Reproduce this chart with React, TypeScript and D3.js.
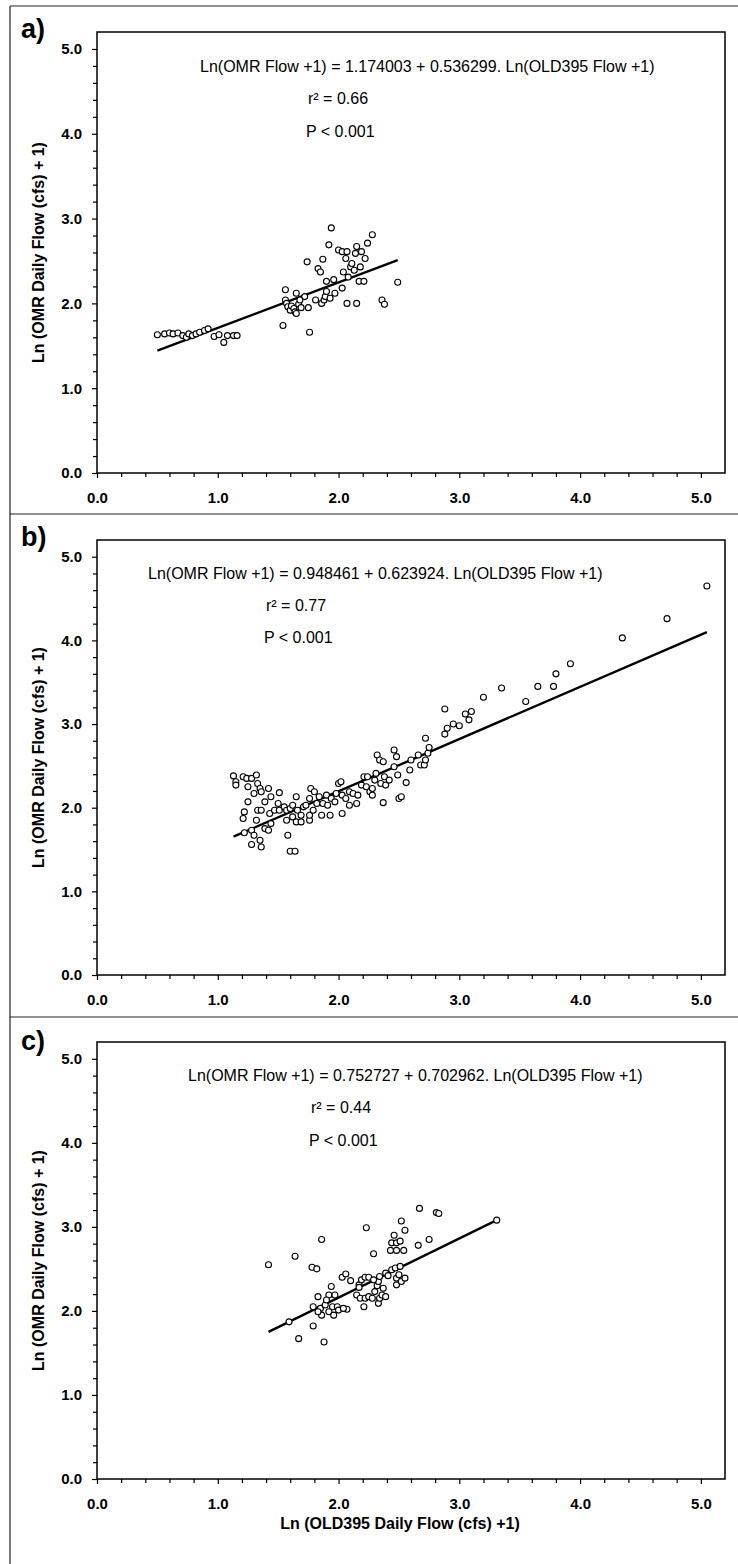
import React, { useEffect, useRef } from "react"
import * as d3 from "d3"

// regression results, one entry per panel
const panelLabels = ["a)", "b)", "c)"]
const intercepts = [1.174003, 0.948461, 0.752727]
const slopes = [0.536299, 0.623924, 0.702962]
const rSquared = ["0.66", "0.77", "0.44"]
const pLabels = ["P < 0.001", "P < 0.001", "P < 0.001"]

const majorTicks = [0, 1, 2, 3, 4, 5]
const minorTicks = [0.2, 0.4, 0.6, 0.8, 1.2, 1.4, 1.6, 1.8, 2.2, 2.4, 2.6, 2.8, 3.2, 3.4, 3.6, 3.8, 4.2, 4.4, 4.6, 4.8]

const yTitle = "Ln (OMR Daily Flow (cfs) + 1)"
const xTitle = "Ln (OLD395 Daily Flow (cfs) +1)"

// [Ln(OLD395 flow + 1), Ln(OMR flow + 1)]
const pointsA = [
  [0.5, 1.63], [0.56, 1.64], [0.6, 1.65], [0.63, 1.64], [0.67, 1.65], [0.71, 1.62], [0.74, 1.6], [0.76, 1.64],
  [0.79, 1.62], [0.82, 1.64], [0.85, 1.66], [0.89, 1.68], [0.92, 1.7], [0.97, 1.61], [1.01, 1.63], [1.05, 1.54],
  [1.08, 1.62], [1.13, 1.62], [1.16, 1.62],
  [1.54, 1.74], [1.56, 2.16], [1.56, 2.04], [1.57, 2.0], [1.58, 1.96], [1.6, 1.92], [1.61, 1.97], [1.63, 1.94],
  [1.64, 1.9], [1.65, 1.88], [1.65, 2.12], [1.67, 1.99], [1.68, 2.04], [1.69, 1.95], [1.72, 2.08], [1.74, 2.49],
  [1.75, 1.95], [1.76, 1.66],
  [1.81, 2.04], [1.83, 2.41], [1.85, 2.37], [1.87, 2.52], [1.86, 2.0], [1.88, 2.04], [1.89, 2.08], [1.9, 2.14],
  [1.9, 2.26], [1.92, 2.69], [1.93, 2.06], [1.94, 2.89], [1.96, 2.28], [1.97, 2.12], [2.0, 2.63], [2.03, 2.61],
  [2.03, 2.18], [2.04, 2.37], [2.06, 2.53], [2.07, 2.0], [2.07, 2.61], [2.08, 2.31], [2.1, 2.43], [2.11, 2.47],
  [2.13, 2.39], [2.14, 2.59], [2.15, 2.0], [2.15, 2.67], [2.17, 2.26], [2.18, 2.43], [2.19, 2.61], [2.21, 2.26],
  [2.22, 2.53], [2.24, 2.71], [2.28, 2.81], [2.36, 2.04], [2.38, 1.99], [2.49, 2.25],
]

const pointsB = [
  [1.13, 2.38], [1.15, 2.31], [1.15, 2.27], [1.21, 2.37], [1.24, 2.35], [1.25, 2.25], [1.28, 2.35], [1.32, 2.39],
  [1.33, 2.29], [1.3, 2.17], [1.35, 2.23], [1.36, 2.19], [1.42, 2.23], [1.51, 2.18], [1.44, 2.13], [1.39, 2.07],
  [1.25, 2.07], [1.22, 1.95], [1.21, 1.87], [1.33, 1.97], [1.36, 1.97], [1.32, 1.85], [1.43, 1.93], [1.47, 1.97],
  [1.51, 1.97], [1.5, 2.05], [1.44, 1.81], [1.39, 1.75], [1.42, 1.73], [1.22, 1.7], [1.28, 1.73], [1.3, 1.67],
  [1.28, 1.56], [1.35, 1.61], [1.36, 1.53],
  [1.55, 2.01], [1.57, 1.97], [1.57, 1.85], [1.58, 1.67], [1.6, 1.48], [1.64, 1.48], [1.6, 1.99], [1.62, 2.03],
  [1.65, 2.13], [1.66, 1.97], [1.62, 1.89], [1.65, 1.83], [1.69, 1.83], [1.69, 1.91], [1.71, 2.01], [1.73, 2.03],
  [1.76, 2.11], [1.77, 2.23], [1.8, 2.19], [1.76, 1.85], [1.76, 1.91], [1.79, 1.97], [1.82, 2.05], [1.84, 2.13],
  [1.86, 1.91], [1.87, 2.05], [1.9, 2.15], [1.91, 2.03], [1.93, 1.91], [1.94, 2.11], [1.97, 2.07], [1.98, 2.17],
  [2.0, 2.29], [2.02, 2.31], [2.03, 1.93], [2.03, 2.15], [2.06, 2.11], [2.09, 2.19], [2.09, 2.03], [2.12, 2.17],
  [2.15, 2.05], [2.16, 2.15], [2.19, 2.27], [2.21, 2.37], [2.23, 2.25], [2.24, 2.37], [2.26, 2.19], [2.28, 2.23],
  [2.28, 2.15], [2.3, 2.33], [2.31, 2.41], [2.32, 2.63], [2.34, 2.57], [2.35, 2.29], [2.37, 2.55], [2.37, 2.06],
  [2.38, 2.37], [2.39, 2.27], [2.42, 2.33], [2.46, 2.69], [2.46, 2.49], [2.48, 2.61], [2.49, 2.39], [2.5, 2.11],
  [2.52, 2.13], [2.56, 2.3], [2.59, 2.45], [2.6, 2.57], [2.66, 2.63], [2.68, 2.51], [2.71, 2.51], [2.72, 2.57],
  [2.74, 2.65],
  [2.75, 2.72], [2.72, 2.83], [2.88, 3.18], [2.9, 2.95], [2.88, 2.88], [2.95, 3.0], [3.0, 2.98], [3.05, 3.12],
  [3.08, 3.05], [3.1, 3.15], [3.2, 3.32], [3.35, 3.43], [3.55, 3.27], [3.65, 3.45], [3.78, 3.45], [3.8, 3.6],
  [3.92, 3.72], [4.35, 4.03], [4.72, 4.26], [5.05, 4.65],
]

const pointsC = [
  [1.42, 2.55], [1.64, 2.65], [1.86, 2.85], [1.78, 2.52], [1.82, 2.5], [1.59, 1.87], [1.79, 1.82], [1.67, 1.67],
  [1.88, 1.63], [2.23, 2.99], [2.29, 2.68], [2.46, 2.9], [2.44, 2.81], [2.48, 2.81], [2.51, 2.83], [2.43, 2.72],
  [2.48, 2.72], [2.54, 2.72], [2.52, 3.07], [2.55, 2.96], [2.67, 3.22], [2.81, 3.17], [2.83, 3.16], [2.66, 2.78],
  [2.75, 2.85], [3.31, 3.08],
  [1.83, 2.17], [1.92, 2.19], [1.97, 2.19], [1.94, 2.29], [1.79, 2.05], [1.85, 2.03], [1.89, 2.07], [1.95, 2.05],
  [1.99, 2.05], [1.92, 1.99], [1.96, 1.95], [1.86, 1.95], [2.0, 2.01], [2.07, 2.02], [2.04, 2.03], [1.83, 1.99],
  [1.9, 2.13],
  [2.03, 2.4], [2.06, 2.44], [2.1, 2.36], [2.17, 2.31], [2.19, 2.37], [2.22, 2.4], [2.25, 2.4], [2.15, 2.19],
  [2.18, 2.15], [2.21, 2.05], [2.22, 2.15], [2.25, 2.17], [2.28, 2.15], [2.3, 2.23], [2.32, 2.3], [2.33, 2.35],
  [2.34, 2.41], [2.33, 2.09], [2.34, 2.15], [2.36, 2.19], [2.37, 2.27], [2.39, 2.17], [2.39, 2.45], [2.41, 2.42],
  [2.44, 2.49], [2.47, 2.51], [2.48, 2.39], [2.5, 2.43], [2.51, 2.53], [2.48, 2.31], [2.52, 2.35], [2.55, 2.39],
  [2.17, 2.28], [2.29, 2.37],
]

const allPoints = [pointsA, pointsB, pointsC]

// layout of each framed panel (pixel positions)
const panels = [
  { boxTop: 6, boxBottom: 514, plotTop: 32, plotBottom: 473, eqX: 200, statX: 308 },
  { boxTop: 514, boxBottom: 1017, plotTop: 540, plotBottom: 975, eqX: 148, statX: 266 },
  { boxTop: 1017, boxBottom: 1600, plotTop: 1042, plotBottom: 1479, eqX: 188, statX: 311 },
]

const W = 738
const H = 1564
const plotLeft = 97
const plotRight = 725
const font = "'Liberation Sans', Arial, Helvetica, sans-serif"
const fmt = d3.format(".1f")

export default function App() {
  const ref = useRef<SVGSVGElement>(null)

  useEffect(() => {
    const svg = d3.select(ref.current)
    svg.selectAll("*").remove()

    const x = d3.scaleLinear().domain([0, 5.2]).range([plotLeft, plotRight])

    panels.forEach((p, i) => {
      const y = d3.scaleLinear().domain([0, 5.2]).range([p.plotBottom, p.plotTop])
      const g = svg.append("g")

      // outer scanned frame
      g.append("line").attr("x1", 10).attr("x2", W).attr("y1", p.boxTop).attr("y2", p.boxTop)
        .attr("stroke", "#222").attr("stroke-width", 1.2)
      g.append("line").attr("x1", 10).attr("x2", 10).attr("y1", p.boxTop).attr("y2", p.boxBottom)
        .attr("stroke", "#222").attr("stroke-width", 1.2)

      // plot box
      g.append("rect")
        .attr("x", plotLeft).attr("y", p.plotTop)
        .attr("width", plotRight - plotLeft).attr("height", p.plotBottom - p.plotTop)
        .attr("fill", "none").attr("stroke", "#000").attr("stroke-width", 1.5)

      // minor ticks
      g.append("g").attr("transform", `translate(0,${p.plotBottom})`)
        .call(d3.axisBottom(x).tickValues(minorTicks).tickSize(4).tickFormat(() => ""))
      g.append("g").attr("transform", `translate(${plotLeft},0)`)
        .call(d3.axisLeft(y).tickValues(minorTicks).tickSize(4).tickFormat(() => ""))

      // major ticks with labels
      const xAxis = g.append("g").attr("transform", `translate(0,${p.plotBottom})`)
        .call(d3.axisBottom(x).tickValues(majorTicks).tickSize(5).tickPadding(14).tickFormat((d) => fmt(+d)))
      const yAxis = g.append("g").attr("transform", `translate(${plotLeft},0)`)
        .call(d3.axisLeft(y).tickValues(majorTicks).tickSize(5).tickPadding(10).tickFormat((d) => fmt(+d)))

      ;[xAxis, yAxis].forEach((ax) => {
        ax.select(".domain").remove()
        ax.selectAll("line").attr("stroke", "#000").attr("stroke-width", 1.3)
        ax.selectAll("text").attr("font-family", font).attr("font-size", 15)
          .attr("font-weight", "bold").attr("fill", "#000")
      })
      g.selectAll(".tick line").attr("stroke", "#000").attr("stroke-width", 1.2)
      g.selectAll(".domain").remove()

      // panel letter
      g.append("text").attr("x", 21).attr("y", p.plotTop + 6 + (i === 2 ? 2 : 0))
        .attr("font-family", font).attr("font-size", 27).attr("font-weight", "bold")
        .text(panelLabels[i])

      // y axis title
      g.append("text")
        .attr("transform", `translate(44,${(p.plotTop + p.plotBottom) / 2}) rotate(-90)`)
        .attr("text-anchor", "middle")
        .attr("font-family", font).attr("font-size", 16).attr("font-weight", "bold")
        .text(yTitle)

      // regression line over the observed range
      const pts = allPoints[i]
      const ext = d3.extent(pts, (d) => d[0]) as [number, number]
      const fit = ext.map((v) => [v, intercepts[i] + slopes[i] * v])
      g.append("path")
        .attr("d", d3.line().x((d) => x(d[0])).y((d) => y(d[1]))(fit as [number, number][]))
        .attr("stroke", "#000").attr("stroke-width", 2.4).attr("fill", "none")

      // observations
      g.append("g").selectAll("circle").data(pts).join("circle")
        .attr("cx", (d) => x(d[0])).attr("cy", (d) => y(d[1])).attr("r", 3)
        .attr("fill", "#fff").attr("stroke", "#000").attr("stroke-width", 1.1)

      // annotations
      const eq = `Ln(OMR Flow +1) = ${intercepts[i].toFixed(6)} + ${slopes[i].toFixed(6)}. Ln(OLD395 Flow +1)`
      const ann = g.append("g").attr("font-family", font).attr("font-size", 16).attr("fill", "#000")
      ann.append("text").attr("x", p.eqX).attr("y", y(4.8)).attr("dy", "0.35em").text(eq)
      ann.append("text").attr("x", p.statX).attr("y", y(4.42)).attr("dy", "0.35em").text(`r² = ${rSquared[i]}`)
      ann.append("text").attr("x", p.statX - 2).attr("y", y(4.03)).attr("dy", "0.35em").text(pLabels[i])

      if (i === 2) {
        g.append("text")
          .attr("x", 400).attr("y", p.plotBottom + 50)
          .attr("text-anchor", "middle")
          .attr("font-family", font).attr("font-size", 16).attr("font-weight", "bold")
          .text(xTitle)
      }
    })
  }, [])

  return (
    <svg
      ref={ref}
      width={W}
      height={H}
      style={{ position: "absolute", left: 0, top: 0, background: "#fff" }}
    />
  )
}
